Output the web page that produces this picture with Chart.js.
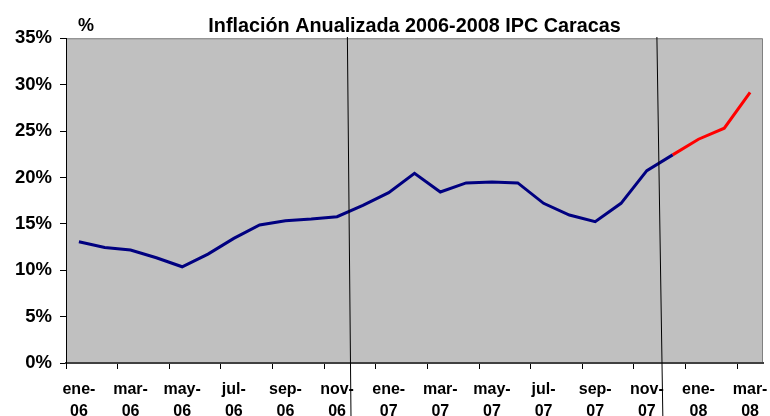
<!DOCTYPE html>
<html>
<head>
<meta charset="utf-8">
<script src="https://cdn.jsdelivr.net/npm/chart.js@4/dist/chart.umd.min.js"></script>
<style>
  html, body { margin: 0; padding: 0; background: #fff; }
  #wrap { width: 770px; height: 416px; }
</style>
</head>
<body>
<div id="wrap"><canvas id="myChart" width="770" height="416"></canvas></div>
<script>
const meses = ['ene-06', 'feb-06', 'mar-06', 'abr-06', 'may-06', 'jun-06', 'jul-06', 'ago-06', 'sep-06', 'oct-06', 'nov-06', 'dic-06',
               'ene-07', 'feb-07', 'mar-07', 'abr-07', 'may-07', 'jun-07', 'jul-07', 'ago-07', 'sep-07', 'oct-07', 'nov-07', 'dic-07',
               'ene-08', 'feb-08', 'mar-08'];

// inflacion anualizada (%), tramo azul hasta dic-07
const inflacion = [13.07, 12.46, 12.17, 11.34, 10.37, 11.74, 13.43, 14.87, 15.34, 15.52, 15.77, 17.0,
                   18.36, 20.45, 18.43, 19.41, 19.51, 19.41, 17.21, 15.95, 15.23, 17.21, 20.73, 22.43,
                   null, null, null];
// tramo rojo dic-07 a mar-08
const inflacion08 = [null, null, null, null, null, null, null, null, null, null, null, null,
                     null, null, null, null, null, null, null, null, null, null, null, 22.43,
                     24.12, 25.31, 29.16];

const yTicks = [0, 5, 10, 15, 20, 25, 30, 35];

// lineas verticales de separacion (posicion en indice de categoria, arriba / abajo)
const separadores = [[10.4, 10.54], [22.39, 22.62]];

const fondo = {
    id: 'fondo',
    beforeDraw(chart) {
        const { ctx, chartArea: a } = chart;
        ctx.save();
        ctx.fillStyle = '#C0C0C0';
        ctx.fillRect(a.left, a.top, a.right - a.left, a.bottom - a.top);
        ctx.strokeStyle = '#808080';
        ctx.lineWidth = 1;
        ctx.beginPath();
        ctx.moveTo(a.left, a.top + 0.5);
        ctx.lineTo(a.right - 0.5, a.top + 0.5);
        ctx.lineTo(a.right - 0.5, a.bottom);
        ctx.stroke();
        ctx.restore();
    },
    afterDraw(chart) {
        const { ctx } = chart;
        const x = chart.scales.x;
        ctx.save();
        ctx.strokeStyle = '#000';
        ctx.lineWidth = 1;
        separadores.forEach(s => {
            ctx.beginPath();
            ctx.moveTo(x.getPixelForValue(s[0]), 37);
            ctx.lineTo(x.getPixelForValue(s[1]), 416);
            ctx.stroke();
        });
        ctx.fillStyle = '#000';
        ctx.font = 'bold 18px "Liberation Sans", Arial, sans-serif';
        ctx.textAlign = 'center';
        ctx.textBaseline = 'middle';
        ctx.fillText('%', 86, 26);
        ctx.restore();
    }
};

const ctx = document.getElementById('myChart').getContext('2d');
const myChart = new Chart(ctx, {
    type: 'line',
    data: {
        labels: meses,
        datasets: [{
            data: inflacion,
            borderColor: '#000080',
            borderWidth: 3,
            pointRadius: 0,
            tension: 0
        }, {
            data: inflacion08,
            borderColor: '#FF0000',
            borderWidth: 3,
            pointRadius: 0,
            tension: 0
        }]
    },
    options: {
        responsive: false,
        animation: false,
        layout: { padding: { left: 0, right: 7, top: 0, bottom: 0 } },
        plugins: {
            legend: { display: false },
            tooltip: { enabled: false },
            title: {
                display: true,
                text: 'Inflación Anualizada 2006-2008 IPC Caracas',
                color: '#000',
                fullSize: false,
                font: { family: '"Liberation Sans", Arial, sans-serif', size: 19.8, weight: 'bold', lineHeight: 1.1 },
                padding: { top: 16, bottom: 0.5 }
            }
        },
        scales: {
            x: {
                offset: true,
                grid: {
                    offset: true,
                    drawOnChartArea: false,
                    tickLength: 6,
                    color: c => c.index % 2 === 0 ? '#000' : 'rgba(0,0,0,0)'
                },
                border: { display: true, color: '#404040', width: 2 },
                ticks: {
                    autoSkip: false,
                    maxRotation: 0,
                    padding: 10,
                    color: '#000',
                    font: { family: '"Liberation Sans", Arial, sans-serif', size: 16, weight: 'bold', lineHeight: 1.35 },
                    callback: function (v, i) {
                        if (i % 2 !== 0) return '';
                        const p = meses[i].split('-');
                        return [p[0] + '-', p[1]];
                    }
                },
                afterFit: s => { s.height = 53; s.paddingLeft = 0; s.paddingRight = 0; }
            },
            y: {
                min: 0,
                max: 35,
                afterBuildTicks: s => { s.ticks = yTicks.map(v => ({ value: v })); },
                grid: { drawOnChartArea: false, tickLength: 6, color: '#000' },
                border: { display: true, color: '#000', width: 1 },
                ticks: {
                    padding: 8,
                    color: '#000',
                    font: { family: '"Liberation Sans", Arial, sans-serif', size: 18.5, weight: 'bold' },
                    callback: v => v + '%'
                },
                afterFit: s => { s.width = 66; s.paddingTop = 0; s.paddingBottom = 0; }
            }
        }
    },
    plugins: [fondo]
});
</script>
</body>
</html>
